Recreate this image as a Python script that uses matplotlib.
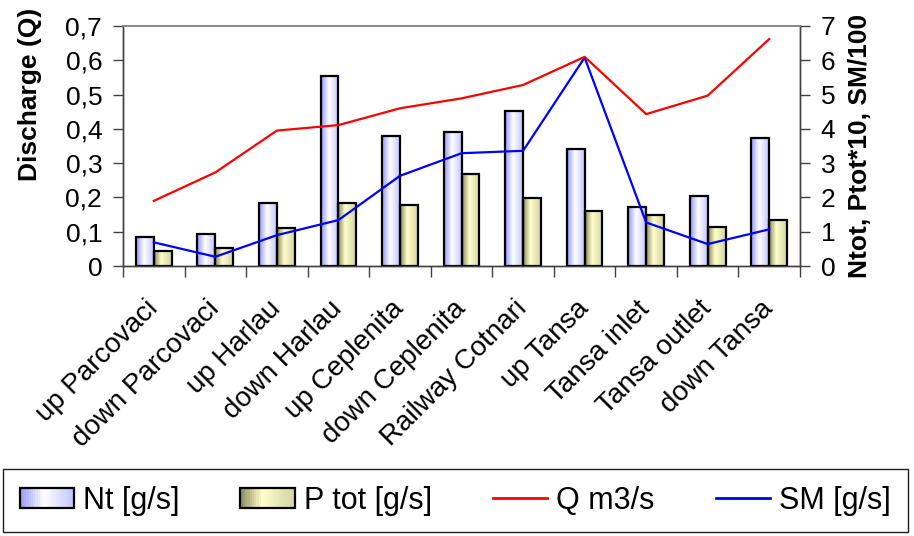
import numpy as np
import matplotlib
matplotlib.use('Agg')
import matplotlib.pyplot as plt
from matplotlib.colors import LinearSegmentedColormap
from matplotlib.legend_handler import HandlerBase
from matplotlib.patches import Rectangle
from matplotlib.lines import Line2D
from matplotlib.ticker import FuncFormatter, FixedLocator

plt.rcParams['font.family'] = ['Liberation Sans', 'DejaVu Sans']

### data
sites = ['up Parcovaci', 'down Parcovaci', 'up Harlau', 'down Harlau', 'up Ceplenita',
         'down Ceplenita', 'Railway Cotnari', 'up Tansa', 'Tansa inlet',
         'Tansa outlet', 'down Tansa']
nt = [0.84, 0.92, 1.83, 5.55, 3.79, 3.91, 4.52, 3.41, 1.71, 2.04, 3.74]      # right axis
ptot = [0.45, 0.53, 1.10, 1.83, 1.79, 2.68, 1.98, 1.61, 1.48, 1.13, 1.35]    # right axis (Ptot*10)
q = [0.19, 0.273, 0.395, 0.411, 0.46, 0.489, 0.528, 0.61, 0.443, 0.497, 0.662]  # left axis
sm = [0.69, 0.27, 0.90, 1.34, 2.63, 3.29, 3.36, 6.08, 1.27, 0.64, 1.07]      # right axis (SM/100)

nt_cmap = LinearSegmentedColormap.from_list('nt', [(0, '#9494ff'), (0.45, '#ffffff'), (1, '#c4c4ff')])
p_cmap = LinearSegmentedColormap.from_list('p', [(0, '#8a8a5a'), (0.4, '#ffffcc'), (1, '#d4d4a4')])

bar_w = 0.29
axis_col = '#404040'


def gradient_bars(ax, x, heights, width, cmap):
    bars = ax.bar(x, heights, width, align='edge', facecolor='none',
                  edgecolor='black', linewidth=1.6, zorder=3)
    grad = np.linspace(0, 1, 64).reshape(1, -1)
    for b in bars:
        ax.imshow(grad, cmap=cmap, aspect='auto', interpolation='bilinear', zorder=2,
                  extent=(b.get_x(), b.get_x() + b.get_width(), 0, b.get_height()))
    return bars


class GradientHandler(HandlerBase):
    def __init__(self, cmap):
        super().__init__()
        self.cmap = cmap

    def create_artists(self, legend, orig_handle, xdescent, ydescent, width, height, fontsize, trans):
        n = 24
        arts = []
        for i in range(n):
            arts.append(Rectangle((-xdescent + width * i / n, -ydescent), width / n, height,
                                  facecolor=self.cmap((i + 0.5) / n), edgecolor='none',
                                  transform=trans))
        arts.append(Rectangle((-xdescent, -ydescent), width, height, facecolor='none',
                              edgecolor='black', linewidth=1.6, transform=trans))
        return arts


fig = plt.figure(figsize=(9.14, 5.36), dpi=100)
ax1 = fig.add_axes([0.1346, 0.5037, 0.7407, 0.4478])
ax2 = ax1.twinx()

x = np.arange(len(sites))
gradient_bars(ax2, x - bar_w, nt, bar_w, nt_cmap)
gradient_bars(ax2, x, ptot, bar_w, p_cmap)
ax2.plot(x, sm, color='#0000ff', linewidth=1.6, zorder=4)
ax1.plot(x, q, color='#ff0000', linewidth=1.6, zorder=4)

# Q line on top of the bars
ax1.set_zorder(ax2.get_zorder() + 1)
ax1.patch.set_visible(False)

ax1.set_xlim(-0.5, len(sites) - 0.5)
ax1.set_ylim(0, 0.7)
ax2.set_ylim(0, 7)

ax1.set_yticks(np.arange(0, 0.71, 0.1))
ax1.yaxis.set_major_formatter(FuncFormatter(lambda v, p: '0' if abs(v) < 1e-9 else ('%.1f' % v).replace('.', ',')))
ax2.set_yticks(range(8))

ax1.set_xticks(x)
ax1.set_xticklabels(sites, rotation=45, ha='right', va='center', rotation_mode='anchor', fontsize=20)
ax1.xaxis.set_minor_locator(FixedLocator(np.arange(-0.5, len(sites), 1)))
ax1.tick_params(axis='x', which='major', length=0, pad=28)
ax1.tick_params(axis='x', which='minor', length=8, width=1, color=axis_col, direction='out')
ax1.tick_params(axis='y', length=7, width=1, color=axis_col, labelsize=19, pad=8)
ax2.tick_params(axis='y', length=7, width=1, color=axis_col, labelsize=19, pad=8)

for a in (ax1, ax2):
    for s in ('left', 'right', 'bottom'):
        a.spines[s].set_color(axis_col)
        a.spines[s].set_linewidth(1)
    a.spines['top'].set_color('#888888')
    a.spines['top'].set_linewidth(1.2)

fig.text(0.033, 0.823, 'Discharge (Q)', rotation=90, ha='center', va='center',
         fontsize=19, fontweight='bold')
fig.text(0.941, 0.727, 'Ntot, Ptot*10, SM/100', rotation=90, ha='center', va='center',
         fontsize=19, fontweight='bold')

h_nt = Rectangle((0, 0), 1, 1)
h_p = Rectangle((0, 0), 1, 1)
h_q = Line2D([], [], color='#ff0000', linewidth=2)
h_sm = Line2D([], [], color='#0000ff', linewidth=2)
leg = fig.legend([h_nt, h_p, h_q, h_sm], ['Nt [g/s]', 'P tot [g/s]', 'Q m3/s', 'SM [g/s]'],
                 loc='center', bbox_to_anchor=(0.498, 0.066), ncol=4, fontsize=22,
                 handler_map={h_nt: GradientHandler(nt_cmap), h_p: GradientHandler(p_cmap)},
                 frameon=True, fancybox=False, framealpha=1, edgecolor='#202020',
                 handlelength=1.77, handleheight=0.65, handletextpad=0.3,
                 columnspacing=2.0, borderpad=0.55)
leg.get_frame().set_linewidth(1)

fig.savefig('out.png', dpi=100)
